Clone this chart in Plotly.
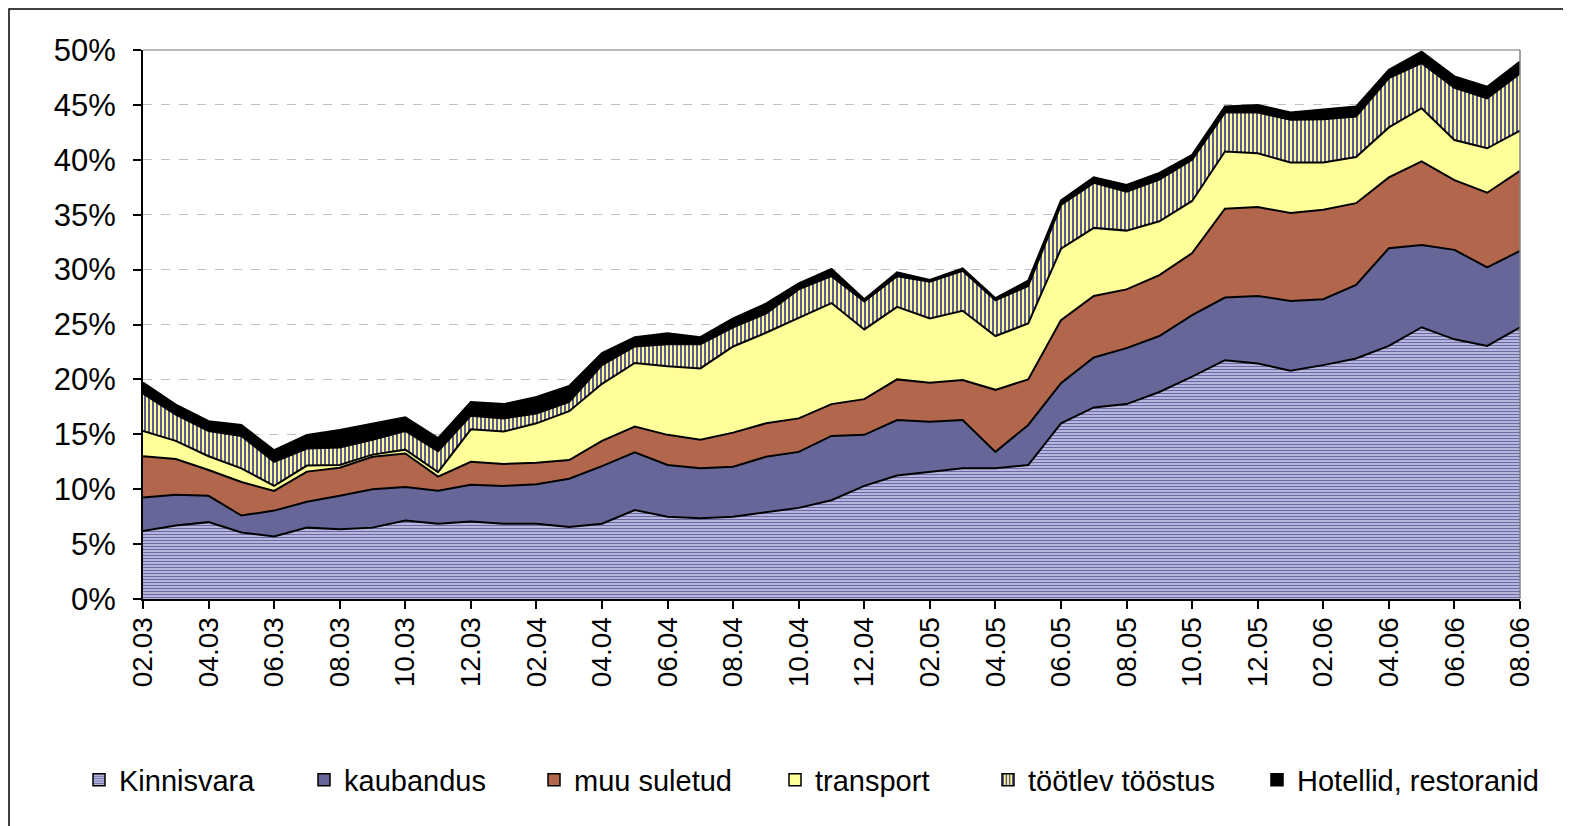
import plotly.graph_objects as go

# ---- data (percent of loan portfolio) ----
months = ["02.03", "03.03", "04.03", "05.03", "06.03", "07.03", "08.03", "09.03", "10.03", "11.03", "12.03",
          "01.04", "02.04", "03.04", "04.04", "05.04", "06.04", "07.04", "08.04", "09.04", "10.04", "11.04", "12.04",
          "01.05", "02.05", "03.05", "04.05", "05.05", "06.05", "07.05", "08.05", "09.05", "10.05", "11.05", "12.05",
          "01.06", "02.06", "03.06", "04.06", "05.06", "06.06", "07.06", "08.06"]

kinnisvara = [6.2, 6.7, 7.0, 6.05, 5.7, 6.5, 6.35, 6.5, 7.15, 6.85, 7.05, 6.85, 6.85, 6.55, 6.85, 8.1, 7.5, 7.35,
              7.5, 7.9, 8.3, 9.0, 10.3, 11.25, 11.6, 11.9, 11.9, 12.2, 16.0, 17.45, 17.75, 18.85, 20.25, 21.75,
              21.45, 20.8, 21.3, 21.9, 23.05, 24.75, 23.65, 23.05, 24.75]
kaubandus = [3.05, 2.8, 2.4, 1.55, 2.35, 2.35, 3.05, 3.5, 3.05, 3.0, 3.35, 3.45, 3.6, 4.4, 5.25, 5.25, 4.7, 4.55,
             4.55, 5.05, 5.1, 5.85, 4.65, 5.05, 4.55, 4.4, 1.5, 3.65, 3.65, 4.55, 5.1, 5.1, 5.6, 5.7, 6.15, 6.35,
             6.0, 6.7, 8.9, 7.5, 8.15, 7.15, 6.95]
muu_suletud = [3.75, 3.25, 2.35, 3.05, 1.8, 2.75, 2.55, 2.95, 3.05, 1.3, 2.1, 2.0, 1.95, 1.7, 2.3, 2.35, 2.75, 2.6,
               3.1, 3.05, 3.05, 2.9, 3.25, 3.7, 3.55, 3.65, 5.65, 4.15, 5.75, 5.6, 5.35, 5.55, 5.65, 8.1, 8.1,
               8.0, 8.15, 7.45, 6.45, 7.6, 6.35, 6.8, 7.3]
transport = [2.3, 1.65, 1.25, 1.25, 0.45, 0.55, 0.25, 0.2, 0.35, 0.4, 2.95, 2.95, 3.6, 4.45, 5.2, 5.8, 6.25, 6.5,
             7.85, 8.25, 9.15, 9.2, 6.35, 6.6, 5.85, 6.3, 4.9, 5.1, 6.5, 6.2, 5.35, 4.9, 4.75, 5.2, 4.9, 4.6,
             4.3, 4.2, 4.55, 4.85, 3.65, 4.05, 3.65]
tootlev = [3.4, 2.4, 2.3, 2.95, 2.2, 1.55, 1.6, 1.35, 1.7, 1.9, 1.25, 1.2, 0.9, 0.85, 1.7, 1.5, 2.0, 2.2, 1.75,
           1.75, 2.6, 2.45, 2.55, 2.8, 3.35, 3.65, 3.25, 3.4, 4.0, 4.1, 3.55, 3.8, 3.75, 3.55, 3.7, 3.9, 3.95,
           3.7, 4.5, 4.1, 4.75, 4.55, 5.2]
hotellid = [1.0, 0.9, 0.9, 1.0, 1.05, 1.25, 1.6, 1.5, 1.25, 1.2, 1.25, 1.3, 1.5, 1.45, 1.1, 0.85, 1.0, 0.65, 0.8,
            0.9, 0.55, 0.65, 0.2, 0.35, 0.15, 0.2, 0.2, 0.5, 0.4, 0.5, 0.6, 0.6, 0.45, 0.55, 0.7, 0.65, 0.85,
            0.9, 0.75, 1.05, 1.05, 1.05, 1.1]

series_names = ["Kinnisvara", "kaubandus", "muu suletud", "transport", "töötlev tööstus", "Hotellid, restoranid"]
series_values = [kinnisvara, kaubandus, muu_suletud, transport, tootlev, hotellid]

# ---- styles ----
FONT = "Liberation Sans, Arial, sans-serif"
fill_colors = ["#B4B4DC", "#666699", "#B2674D", "#FFFF99", "#9C9CB0", "#000000"]
patterns = [
    dict(shape="-", fgcolor="#6A6AA8", bgcolor="#C6C6E8", size=3, solidity=0.45, fgopacity=1),
    None, None, None,
    dict(shape="|", fgcolor="#5A5A90", bgcolor="#FFFF99", size=4, solidity=0.5, fgopacity=1),
    None,
]

# The page body adds an 8px offset; positions below are in screen pixels.
OFF = 8
W, H = 1571 - OFF, 826 - OFF
PL, PR, PT, PB = 143, 1520, 50, 599          # plot area in screen pixels
pw, ph = PR - PL, PB - PT


def px_x(p):
    return (p - PL) / pw


def px_y(p):
    return (PB - p) / ph


legend_symbol_px = [93, 318, 548, 789, 1002, 1271]
legend_center_y = 780

fig = go.Figure()

for i, (name, vals) in enumerate(zip(series_names, series_values)):
    kw = {}
    if patterns[i] is not None:
        kw["fillpattern"] = patterns[i]
    fig.add_trace(go.Scatter(
        x=months, y=vals, name=name, mode="lines", stackgroup="one",
        line=dict(color="black", width=2), fillcolor=fill_colors[i],
        showlegend=False, hoverinfo="x+y+name", **kw))

for i, name in enumerate(series_names):
    key = "legend" if i == 0 else f"legend{i + 1}"
    marker = dict(color=fill_colors[i], line=dict(color="black", width=1.5))
    if patterns[i] is not None:
        marker["pattern"] = dict(patterns[i])
    fig.add_trace(go.Bar(x=[None], y=[None], name=name, marker=marker, legend=key,
                         showlegend=True, hoverinfo="skip"))

legend_layout = {}
for i in range(len(series_names)):
    key = "legend" if i == 0 else f"legend{i + 1}"
    legend_layout[key] = dict(
        x=px_x(legend_symbol_px[i] - 14), xanchor="left",
        y=px_y(legend_center_y), yanchor="middle",
        orientation="h", bgcolor="rgba(0,0,0,0)", borderwidth=0,
        font=dict(family=FONT, size=29, color="black"),
    )

fig.update_layout(
    width=W, height=H,
    margin=dict(l=PL - OFF, r=W + OFF - PR, t=PT - OFF, b=H + OFF - PB, autoexpand=False),
    paper_bgcolor="white", plot_bgcolor="white",
    font=dict(family=FONT, color="black"),
    showlegend=True,
    **legend_layout,
    xaxis=dict(
        type="category", categoryorder="array", categoryarray=months,
        range=[0, len(months) - 1], tickmode="linear", tick0=0, dtick=2,
        tickangle=-90, ticks="outside", ticklen=8, tickwidth=1.5, tickcolor="black",
        showline=True, linecolor="black", linewidth=2, showgrid=False, zeroline=False,
        tickfont=dict(family=FONT, size=28, color="black"), ticklabelstandoff=-3,
    ),
    yaxis=dict(
        range=[0, 50], tick0=0, dtick=5, ticksuffix="%",
        ticks="outside", ticklen=8, tickwidth=1.5, tickcolor="black",
        showline=True, linecolor="black", linewidth=2,
        showgrid=True, gridcolor="#C0C0C0", griddash="dash", gridwidth=1, zeroline=False,
        tickfont=dict(family=FONT, size=31, color="black"), ticklabelstandoff=11,
    ),
    shapes=[
        dict(type="line", xref="paper", yref="paper", x0=0, x1=1, y0=1, y1=1,
             line=dict(color="#A0A0A0", width=1.5), layer="above"),
        dict(type="line", xref="paper", yref="paper", x0=1, x1=1, y0=0, y1=1,
             line=dict(color="#808080", width=1.5), layer="above"),
        dict(type="rect", xref="paper", yref="paper",
             x0=px_x(9), x1=px_x(1600), y0=px_y(860), y1=px_y(9),
             line=dict(color="black", width=1.5), fillcolor="rgba(0,0,0,0)", layer="above"),
    ],
)

fig.write_html("out.html")
